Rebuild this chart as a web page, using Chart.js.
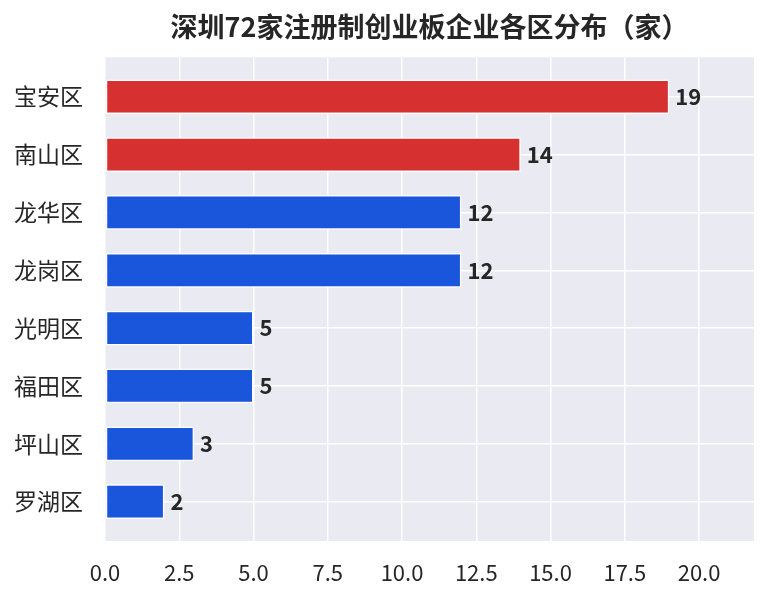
<!DOCTYPE html>
<html>
<head>
<meta charset="utf-8">
<script src="https://cdn.jsdelivr.net/npm/chart.js@4.4.0/dist/chart.umd.min.js"></script>
<style>
  html, body { margin: 0; padding: 0; background: #fff; }
  #wrap { width: 769px; height: 600px; }
</style>
</head>
<body>
<div id="wrap"><canvas id="districtChart" width="769" height="600"></canvas></div>
<script>
const districts = ['宝安区', '南山区', '龙华区', '龙岗区', '光明区', '福田区', '坪山区', '罗湖区'];
const companyCounts = [19, 14, 12, 12, 5, 5, 3, 2];
const xTicks = [0, 2.5, 5, 7.5, 10, 12.5, 15, 17.5, 20];

const FONT = "'Noto Sans CJK SC', 'Noto Sans', sans-serif";
const RED = '#d63031';
const BLUE = '#1a56db';

// top two districts highlighted in red
const barColors = companyCounts.map((v, i) => i < 2 ? RED : BLUE);
const points = companyCounts.map((v, i) => ({ x: v, y: i }));

// grey panel behind the plot, seaborn style
const panelBg = {
  id: 'panelBg',
  beforeDraw(chart) {
    const { ctx, chartArea: a } = chart;
    ctx.save();
    ctx.fillStyle = '#eaeaf2';
    ctx.fillRect(a.left, a.top, a.right - a.left, a.bottom - a.top);
    ctx.restore();
  }
};

// value labels to the right of each bar
const valueLabels = {
  id: 'valueLabels',
  afterDatasetsDraw(chart) {
    const { ctx } = chart;
    const meta = chart.getDatasetMeta(0);
    ctx.save();
    ctx.font = 'bold 22px ' + FONT;
    ctx.fillStyle = '#262626';
    ctx.textAlign = 'left';
    ctx.textBaseline = 'middle';
    meta.data.forEach((bar, i) => {
      ctx.fillText(String(companyCounts[i]), bar.x + 6, bar.y);
    });
    ctx.restore();
  }
};

new Chart(document.getElementById('districtChart'), {
  type: 'bar',
  data: {
    datasets: [{
      data: points,
      backgroundColor: barColors,
      borderColor: '#ffffff',
      borderWidth: 1.5,
      borderSkipped: false,
      barPercentage: 0.6,
      categoryPercentage: 1.0
    }]
  },
  options: {
    indexAxis: 'y',
    responsive: false,
    animation: false,
    layout: { padding: { left: 0, right: 15, top: 0, bottom: 0 } },
    scales: {
      x: {
        type: 'linear',
        min: 0,
        max: 21.85,
        afterBuildTicks(scale) {
          scale.ticks = xTicks.map(v => ({ value: v }));
        },
        afterFit(scale) { scale.height = 59; },
        border: { display: false },
        grid: { color: '#ffffff', lineWidth: 1.5, drawTicks: false },
        ticks: {
          padding: 18,
          color: '#262626',
          font: { family: FONT, size: 22 },
          callback: v => v.toFixed(1)
        }
      },
      y: {
        type: 'linear',
        reverse: true,
        offset: false,
        min: -0.68,
        max: 7.68,
        afterBuildTicks(scale) {
          scale.ticks = districts.map((d, i) => ({ value: i }));
        },
        afterFit(scale) { scale.width = 105; },
        border: { display: false },
        grid: { color: '#ffffff', lineWidth: 1.5, drawTicks: false, offset: false },
        ticks: {
          padding: 22,
          color: '#262626',
          font: { family: FONT, size: 23 },
          callback: v => districts[v]
        }
      }
    },
    plugins: {
      legend: { display: false },
      tooltip: { enabled: false },
      title: {
        display: true,
        fullSize: false,
        text: '深圳72家注册制创业板企业各区分布（家）',
        color: '#262626',
        font: { family: FONT, size: 27, weight: 'bold', lineHeight: 1.2 },
        padding: { top: 11, bottom: 14 }
      }
    }
  },
  plugins: [panelBg, valueLabels]
});
</script>
</body>
</html>
